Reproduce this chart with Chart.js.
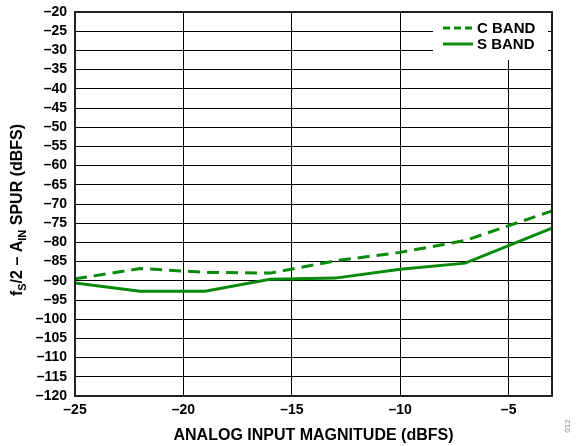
<!DOCTYPE html>
<html>
<head>
<meta charset="utf-8">
<script src="https://cdn.jsdelivr.net/npm/chart.js@4.4.1/dist/chart.umd.min.js"></script>
<style>
  html, body { margin: 0; padding: 0; background: #fff; }
  #c { display: block; }
</style>
</head>
<body>
<canvas id="c" width="579" height="446"></canvas>
<script>
// input level (dBFS) for both bands
const inputLevels = [-25, -22, -19, -16, -13, -10, -7, -3];
const cBand = [-89.5, -86.8, -87.8, -88.0, -84.8, -82.6, -79.5, -71.8];
const sBand = [-90.6, -92.7, -92.7, -89.6, -89.3, -87.0, -85.4, -76.3];
const xTicks = [-25, -20, -15, -10, -5];
const yTicks = [-20, -25, -30, -35, -40, -45, -50, -55, -60, -65, -70, -75, -80, -85, -90, -95, -100, -105, -110, -115, -120];
const seriesNames = ['C BAND', 'S BAND'];

const green = '#0a8a0a';
const FONT = '"Liberation Sans", Arial, sans-serif';

function pts(ys) {
  return inputLevels.map((x, i) => ({ x: x, y: ys[i] }));
}
function dash(v) { return String(v).replace('-', '\u2013'); }

// legend box inside plot + frame + axis titles
const extras = {
  id: 'extras',
  beforeDatasetsDraw(chart) {
    const ctx = chart.ctx;
    const a = chart.chartArea;
    ctx.save();
    ctx.fillStyle = '#fff';
    ctx.fillRect(a.right - 119, a.top + 1, 115, 47);
    const items = chart.data.datasets;
    items.forEach((ds, i) => {
      const y = a.top + 16 + i * 16;
      ctx.strokeStyle = ds.borderColor;
      ctx.lineWidth = 3;
      ctx.setLineDash(i === 0 ? [7, 4] : []);
      ctx.beginPath();
      ctx.moveTo(a.right - 109, y);
      ctx.lineTo(a.right - 79, y);
      ctx.stroke();
      ctx.setLineDash([]);
      ctx.fillStyle = '#000';
      ctx.font = 'bold 15px ' + FONT;
      ctx.textBaseline = 'middle';
      ctx.textAlign = 'left';
      ctx.fillText(ds.label, a.right - 75, y + 1);
    });
    ctx.restore();
  },
  afterDraw(chart) {
    const ctx = chart.ctx;
    const a = chart.chartArea;
    ctx.save();
    ctx.strokeStyle = '#222';
    ctx.lineWidth = 2;
    ctx.strokeRect(a.left, a.top, a.right - a.left, a.bottom - a.top);

    // x title
    ctx.fillStyle = '#000';
    ctx.font = 'bold 16px ' + FONT;
    ctx.textAlign = 'center';
    ctx.textBaseline = 'middle';
    ctx.fillText('ANALOG INPUT MAGNITUDE (dBFS)', (a.left + a.right) / 2, 436);

    // y title with subscripts
    const parts = [
      ['f', 16, 0], ['S', 11, 5], ['/2 \u2013 A', 16, 0], ['IN', 11, 5], [' SPUR (dBFS)', 16, 0]
    ];
    let total = 0;
    parts.forEach(p => { ctx.font = 'bold ' + p[1] + 'px ' + FONT; total += ctx.measureText(p[0]).width; });
    ctx.translate(18, 210);
    ctx.rotate(-Math.PI / 2);
    ctx.textAlign = 'left';
    ctx.textBaseline = 'middle';
    let x = -total / 2;
    parts.forEach(p => {
      ctx.font = 'bold ' + p[1] + 'px ' + FONT;
      ctx.fillText(p[0], x, p[2]);
      x += ctx.measureText(p[0]).width;
    });
    ctx.restore();

    ctx.save();
    ctx.translate(568, 426);
    ctx.rotate(-Math.PI / 2);
    ctx.fillStyle = '#888';
    ctx.font = '8px ' + FONT;
    ctx.textAlign = 'center';
    ctx.textBaseline = 'middle';
    ctx.fillText('012', 0, 0);
    ctx.restore();
  }
};

new Chart(document.getElementById('c'), {
  type: 'line',
  data: {
    datasets: [
      { label: seriesNames[0], data: pts(cBand), borderColor: green, borderWidth: 3, borderDash: [12, 7], pointRadius: 0, tension: 0, fill: false },
      { label: seriesNames[1], data: pts(sBand), borderColor: green, borderWidth: 3, pointRadius: 0, tension: 0, fill: false }
    ]
  },
  options: {
    responsive: false,
    animation: false,
    devicePixelRatio: 1,
    layout: { padding: { left: 0, top: 12, right: 27, bottom: 0 } },
    plugins: { legend: { display: false }, tooltip: { enabled: false } },
    scales: {
      x: {
        type: 'linear',
        min: -25,
        max: -3,
        afterBuildTicks: s => { s.ticks = xTicks.map(v => ({ value: v })); },
        afterFit: s => { s.height = 50; s.paddingLeft = 0; s.paddingRight = 0; },
        grid: { color: '#000', lineWidth: 1, drawTicks: false },
        border: { display: false },
        ticks: {
          color: '#000',
          padding: 6,
          autoSkip: false,
          maxRotation: 0,
          font: { family: FONT, size: 14, weight: 'bold' },
          callback: v => dash(v)
        }
      },
      y: {
        min: -120,
        max: -20,
        afterBuildTicks: s => { s.ticks = yTicks.map(v => ({ value: v })); },
        afterFit: s => { s.width = 75; s.paddingTop = 0; s.paddingBottom = 0; },
        grid: { color: '#000', lineWidth: 1, drawTicks: false },
        border: { display: false },
        ticks: {
          color: '#000',
          padding: 8,
          autoSkip: false,
          font: { family: FONT, size: 14, weight: 'bold' },
          callback: v => dash(v)
        }
      }
    }
  },
  plugins: [extras]
});
</script>
</body>
</html>
